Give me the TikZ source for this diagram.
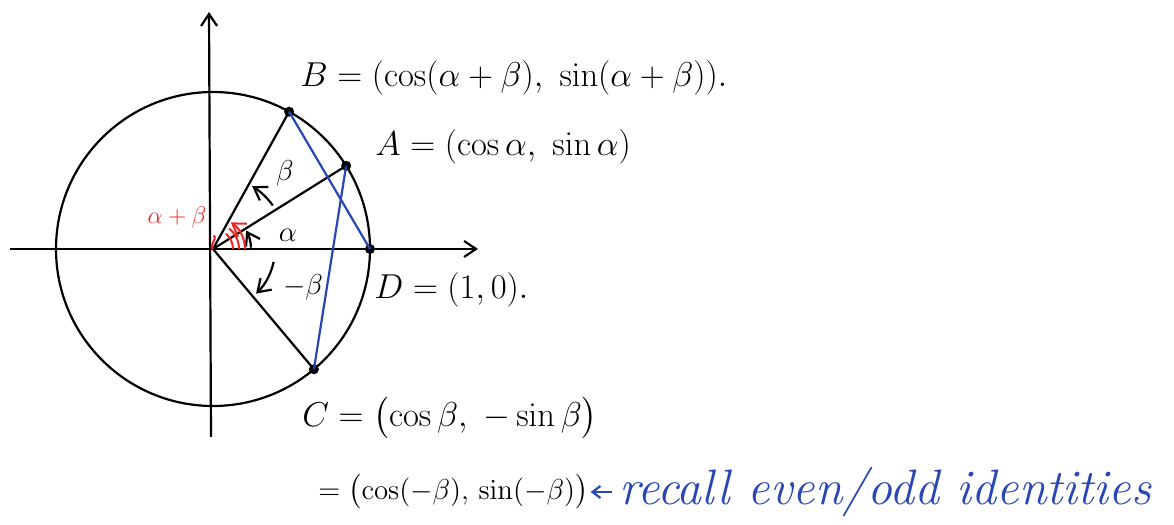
\documentclass[tikz,border=0pt]{standalone}
\usepackage{amsmath}
\usetikzlibrary{arrows.meta}
\definecolor{inkblue}{RGB}{40,70,180}
\definecolor{inkred}{RGB}{240,35,35}
\tikzset{
  ink/.style={line width=1.1pt},
  pt/.style={circle,fill=black,inner sep=0pt,minimum size=5pt},
  eq/.style={anchor=west,inner sep=1pt,font=\LARGE},
  barb/.style={-{Straight Barb[length=6pt,width=8pt]}},
}
\begin{document}
\begin{tikzpicture}[x=0.5pt,y=0.5pt]
\useasboundingbox (0,0) rectangle (1174,525);
% circle and axes
\coordinate (O) at (213,276);
\draw[ink] (O) circle (157);
\coordinate (xl) at (10,276);
\coordinate (xr) at (478,276);
\coordinate (yb) at (211,88);
\coordinate (yt) at (209,513);
\draw[ink,barb] (xl) -- (xr);
\draw[ink,barb] (yb) -- (yt);
% points on the circle
\path (O) ++(61:157) node[pt] (B) {};
\path (O) ++(32:157) node[pt] (A) {};
\path (O) ++(0:157) node[pt] (D) {};
\path (O) ++(-50:157) node[pt] (C) {};
\draw[ink] (O) -- (B.center);
\draw[ink] (O) -- (A.center);
\draw[ink] (O) -- (C.center);
\draw[ink,inkblue] (B.center) -- (D.center);
\draw[ink,inkblue] (A.center) -- (C.center);
% angles
\draw[ink,barb] (O) ++(2:38) arc[start angle=2,end angle=29,radius=38];
\draw[ink,barb] (O) ++(36:74) arc[start angle=36,end angle=58,radius=74];
\draw[ink,barb] (O) ++(-12:62) arc[start angle=-12,end angle=-46,radius=62];
\node[font=\Large] (alpha) at (288,290) {$\alpha$};
\node[font=\Large] (beta) at (285,352) {$\beta$};
\node[font=\Large] (mbeta) at (303,238) {$-\beta$};
% red angle alpha+beta
\draw[inkred,line width=1pt] (O) ++(0:20) arc[start angle=0,end angle=50,radius=20];
\draw[inkred,line width=1pt] (O) ++(0:26) arc[start angle=0,end angle=52,radius=26];
\draw[inkred,line width=1pt,barb] (O) ++(0:32) arc[start angle=0,end angle=56,radius=32];
\node[inkred,font=\large] (ab) at (177,307) {$\alpha+\beta$};
\draw[inkred,line width=1pt] (ab.south east) to[out=-10,in=160] (O);
% coordinates of the points
\node[eq] (Btxt) at (298,447) {$B=(\cos(\alpha+\beta),\ \sin(\alpha+\beta)).$};
\node[eq] (Atxt) at (373,378) {$A=(\cos\alpha,\ \sin\alpha)$};
\node[eq] (Dtxt) at (372,235) {$D=(1,0).$};
\node[eq] (Ctxt) at (300,107) {$C=\bigl(\cos\beta,\ -\sin\beta\bigr)$};
\node[eq,font=\Large] (Ctxt2) at (316,33) {$=\bigl(\cos(-\beta),\,\sin(-\beta)\bigr)$};
\node[anchor=west,inkblue,font=\Huge\itshape] (note) at (612,33) {recall even/odd identities};
\draw[ink,inkblue,-{Straight Barb[length=4pt,width=6pt]}] (note.west) -- (Ctxt2.east);
\end{tikzpicture}
\end{document}
